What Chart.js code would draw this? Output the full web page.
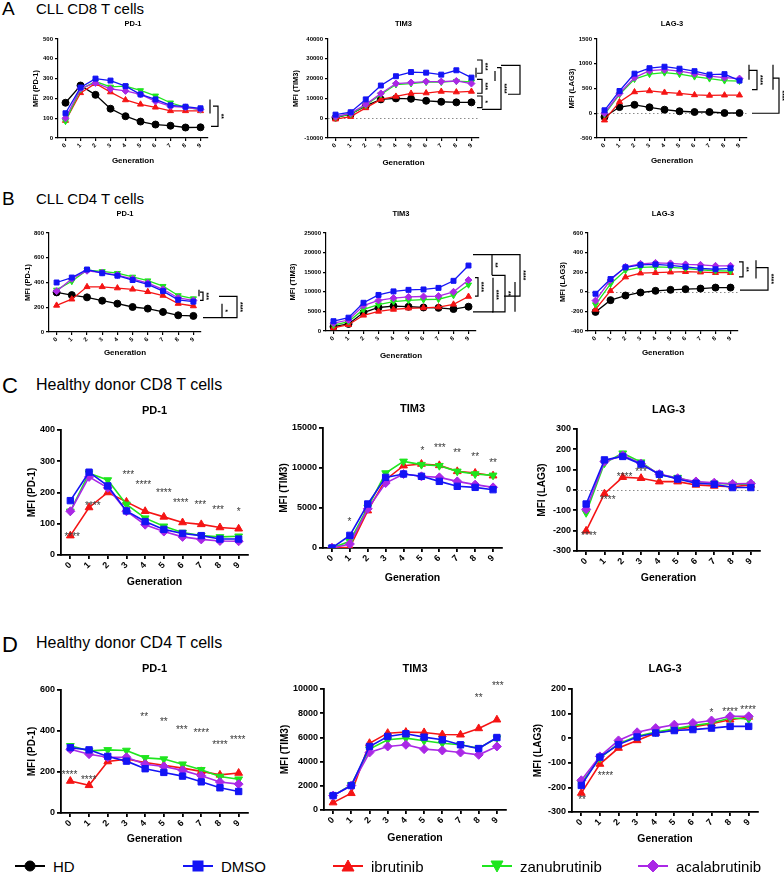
<!DOCTYPE html>
<html>
<head>
<meta charset="utf-8">
<title>PD-1, TIM3 and LAG-3 by generation</title>
<script src="https://cdn.jsdelivr.net/npm/chart.js@4.4.1/dist/chart.umd.min.js"></script>
<style>
    html, body { margin: 0; padding: 0; background: #fff; }
    #page { position: relative; width: 784px; height: 873px; overflow: hidden; font-family: 'Liberation Sans', Arial, sans-serif; color: #000; }
    #page canvas { position: absolute; }
    .txt { position: absolute; white-space: nowrap; line-height: 1; }
    .legend { display: flex; align-items: center; height: 20px; font-size: 15px; }
    .legend span { margin-left: 8px; }
</style>
</head>
<body>
<div id="page">
    <div class="txt" style="left:2px;top:-1px;font-size:19px">A</div>
    <div class="txt" style="left:36px;top:1px;font-size:15px">CLL CD8 T cells</div>
    <div class="txt" style="left:2px;top:189px;font-size:19px">B</div>
    <div class="txt" style="left:36px;top:191px;font-size:15px">CLL CD4 T cells</div>
    <div class="txt" style="left:2px;top:375px;font-size:22px">C</div>
    <div class="txt" style="left:36px;top:377px;font-size:16px">Healthy donor CD8 T cells</div>
    <div class="txt" style="left:2px;top:634px;font-size:22px">D</div>
    <div class="txt" style="left:36px;top:635px;font-size:16px">Healthy donor CD4 T cells</div>
</div>
<script>
const FONT = "'Liberation Sans', Arial, sans-serif";

const generations = ['0', '1', '2', '3', '4', '5', '6', '7', '8', '9'];
const seriesNames = ['HD', 'DMSO', 'ibrutinib', 'zanubrutinib', 'acalabrutinib'];
const seriesColors = ['#000000', '#1414f5', '#f51414', '#1ee61e', '#aa28e6'];
const seriesMarkers = ['circle', 'rect', 'triangle', 'triangle', 'rectRot'];
const seriesRotation = [0, 0, 0, 180, 0];
const seriesOrder = [4, 0, 3, 2, 1];

// rows: HD, DMSO, ibrutinib, zanubrutinib, acalabrutinib
const cllCd8Pd1 = [
    [178, 265, 218, 148, 110, 83, 68, 62, 53, 54],
    [125, 255, 300, 290, 262, 220, 195, 165, 158, 150],
    [88, 228, 275, 232, 192, 170, 155, 137, 137, 137],
    [85, 245, 285, 258, 262, 240, 213, 178, 155, 143],
    [100, 250, 278, 248, 238, 220, 185, 160, 155, 145]
];
const cllCd8Tim3 = [
    [300, 2000, 6200, 9500, 10000, 9800, 8800, 8300, 8000, 8000],
    [1800, 3000, 9500, 16500, 21200, 23300, 23000, 22000, 24200, 20500],
    [-500, 800, 5200, 9500, 11000, 12500, 12700, 13500, 13200, 13500],
    [500, 2000, 6500, 12000, 17000, 17500, 18200, 18200, 18700, 18300],
    [800, 2500, 7000, 12500, 17500, 18000, 18500, 18500, 18800, 17500]
];
const cllCd8Lag3 = [
    [-75, 125, 170, 120, 72, 40, 25, 25, 5, 5],
    [60, 450, 800, 910, 940, 900, 850, 780, 790, 660],
    [-140, 230, 430, 450, 420, 400, 370, 360, 365, 365],
    [-20, 380, 690, 790, 820, 790, 740, 700, 660, 650],
    [0, 400, 720, 860, 880, 850, 800, 750, 720, 700]
];
const cllCd4Pd1 = [
    [320, 298, 280, 253, 229, 202, 189, 162, 135, 130],
    [400, 440, 505, 475, 455, 420, 385, 330, 260, 245],
    [215, 265, 365, 365, 355, 345, 325, 295, 230, 210],
    [340, 410, 500, 490, 475, 445, 415, 370, 295, 270],
    [330, 430, 495, 480, 460, 430, 395, 345, 275, 255]
];
const cllCd4Tim3 = [
    [1100, 1800, 4700, 6000, 6350, 6200, 6000, 5900, 5600, 6200],
    [2500, 3400, 7200, 9200, 10100, 10500, 10600, 11000, 12800, 16700],
    [800, 1600, 4000, 5000, 5500, 5800, 5900, 6100, 6800, 8800],
    [1500, 2400, 5500, 6700, 7500, 7800, 8000, 8100, 9100, 11800],
    [2000, 2800, 6500, 7800, 8400, 8700, 8800, 8900, 10000, 13000]
];
const cllCd4Lag3 = [
    [-205, -85, -38, -7, 10, 20, 27, 33, 43, 43],
    [-20, 130, 250, 275, 280, 270, 255, 240, 230, 240],
    [-180, 10, 150, 190, 195, 200, 205, 200, 195, 195],
    [-130, 80, 220, 250, 255, 250, 240, 225, 215, 210],
    [-90, 120, 255, 285, 295, 290, 280, 275, 265, 265]
];
const hdCd8Pd1 = [
    null,
    [174, 265, 221, 141, 107, 82, 69, 62, 51, 51],
    [62, 152, 200, 170, 140, 122, 104, 98, 88, 84],
    [140, 262, 240, 162, 118, 92, 72, 62, 58, 60],
    [140, 250, 215, 140, 97, 75, 58, 50, 45, 44]
];
const hdCd8Tim3 = [
    null,
    [0, 1580, 5500, 8830, 9250, 8960, 8330, 7710, 7580, 7290],
    [0, 80, 4670, 8540, 10290, 10500, 10330, 9580, 9380, 9040],
    [0, 830, 5080, 9370, 10830, 10420, 10290, 9580, 9250, 9080],
    [0, 500, 4900, 8120, 9250, 8960, 8830, 8330, 7920, 7580]
];
const hdCd8Lag3 = [
    null,
    [-69, 148, 165, 127, 77, 54, 33, 28, 12, 12],
    [-201, -18, 63, 58, 41, 41, 25, 20, 16, 25],
    [-112, 132, 181, 137, 74, 61, 36, 33, 28, 28],
    [-95, 140, 170, 130, 78, 58, 42, 36, 30, 32]
];
const hdCd4Pd1 = [
    null,
    [319, 308, 276, 253, 216, 198, 180, 152, 123, 105],
    [156, 135, 251, 263, 246, 233, 219, 203, 186, 195],
    [328, 303, 308, 305, 269, 263, 238, 211, 178, 165],
    [311, 287, 272, 272, 238, 227, 208, 182, 151, 141]
];
const hdCd4Tim3 = [
    null,
    [1190, 2020, 5250, 6080, 6300, 6020, 5800, 5390, 5080, 5990],
    [610, 1380, 5520, 6350, 6440, 6410, 6240, 6220, 6740, 7460],
    [1190, 2070, 5030, 5800, 5940, 5720, 5520, 5390, 5110, 5940],
    [1190, 2020, 4750, 5250, 5390, 5030, 4920, 4750, 4560, 5250]
];
const hdCd4Lag3 = [
    null,
    [-192, -77, -26, 5, 21, 31, 35, 41, 48, 48],
    [-223, -105, -40, -9, 21, 35, 46, 59, 75, 86],
    [-182, -81, -22, 8, 25, 38, 51, 62, 82, 78],
    [-171, -74, -9, 24, 41, 55, 62, 72, 89, 89]
];

// y axis: [min, max, step]
const cllCd8Ticks = [[0, 500, 100], [-10000, 40000, 10000], [-500, 1500, 500]];
const cllCd4Ticks = [[0, 800, 200], [0, 25000, 5000], [-400, 600, 200]];
const hdCd8Ticks = [[0, 400, 100], [0, 15000, 5000], [-300, 300, 100]];
const hdCd4Ticks = [[0, 600, 200], [0, 10000, 2000], [-300, 200, 100]];

// significance asterisks: [generation, MFI, label]
const hdCd8Pd1Stars = [[0.1, 67, '****'], [1.2, 165, '****'], [3.1, 265, '***'], [3.9, 232, '****'], [5.0, 206, '****'], [5.9, 176, '****'], [6.95, 168, '***'], [7.9, 151, '***'], [9.0, 147, '*']];
const hdCd8Tim3Stars = [[0.98, 3540, '*'], [5.05, 12500, '*'], [6.03, 12830, '***'], [6.99, 12170, '**'], [8.0, 11670, '**'], [9.0, 10920, '**']];
const hdCd8Lag3Stars = [[0.15, -214, '****'], [1.18, -38, '****'], [2.1, 77, '****'], [3.0, 99, '***']];
const hdCd4Pd1Stars = [[-0.04, 200, '****'], [0.98, 175, '****'], [3.95, 483, '**'], [5.0, 459, '**'], [5.96, 418, '***'], [7.0, 402, '****'], [8.0, 344, '****'], [8.95, 370, '****']];
const hdCd4Tim3Stars = [[8.0, 9500, '**'], [9.05, 10500, '***']];
const hdCd4Lag3Stars = [[0.04, -240, '**'], [1.3, -144, '****'], [7.0, 113, '*'], [8.0, 116, '****'], [8.97, 127, '****']];

// comparison brackets: [px right of plot, top MFI, bottom MFI, label, top tick, bottom tick]
const cllCd8Pd1Brackets = [[2, 195, 124, '', 0, 0], [10, 161, 59, '**', 5, 7]];
const cllCd8Tim3Brackets = [[3, 29400, 22700, '***', 5, 5], [3, 19600, 12600, '***', 5, 5], [3, 11200, 5300, '*', 5, 5],
    [-3, 25500, 20500, '', 0, 0], [22, 25500, 4500, '****', 4, 19], [16, 23800, 18800, '', 0, 0], [41, 26700, 12100, '', 19, 12]];
const cllCd8Lag3Brackets = [[2, 981, 678, '', 0, 0], [10, 867, 476, '****', 8, 5], [26, 981, 476, '', 0, 0], [32, 710, 0, '****', 6, 27]];
const cllCd4Pd1Brackets = [[-2, 342, 288, '', 0, 0], [2, 323, 256, '***', 3, 3], [36, 288, 116, '****', 18, 34], [21, 229, 116, '*', 0, 0]];
const cllCd4Tim3Brackets = [[2, 13600, 8900, '****', 3, 3], [16, 19500, 14200, '**', 19, 0], [17, 13600, 4900, '****', 0, 20],
    [29, 14200, 4900, '**', 13, 13], [44, 19500, 8900, '****', 28, 16], [39, 12500, 4900, '', 0, 0]];
const cllCd4Lag3Brackets = [[5, 305, 153, '**', 4, 4], [18, 322, 136, '', 0, 0], [30, 247, 17, '****', 12, 28]];

const panels = [
    { data: cllCd8Pd1, ticks: cllCd8Ticks[0], title: 'PD-1', yTitle: 'MFI (PD-1)', brackets: cllCd8Pd1Brackets },
    { data: cllCd8Tim3, ticks: cllCd8Ticks[1], title: 'TIM3', yTitle: 'MFI (TIM3)', brackets: cllCd8Tim3Brackets, zero: true },
    { data: cllCd8Lag3, ticks: cllCd8Ticks[2], title: 'LAG-3', yTitle: 'MFI (LAG3)', brackets: cllCd8Lag3Brackets, zero: true },
    { data: cllCd4Pd1, ticks: cllCd4Ticks[0], title: 'PD-1', yTitle: 'MFI (PD-1)', brackets: cllCd4Pd1Brackets },
    { data: cllCd4Tim3, ticks: cllCd4Ticks[1], title: 'TIM3', yTitle: 'MFI (TIM3)', brackets: cllCd4Tim3Brackets },
    { data: cllCd4Lag3, ticks: cllCd4Ticks[2], title: 'LAG-3', yTitle: 'MFI (LAG3)', brackets: cllCd4Lag3Brackets, zero: true },
    { data: hdCd8Pd1, ticks: hdCd8Ticks[0], title: 'PD-1', yTitle: 'MFI (PD-1)', stars: hdCd8Pd1Stars, big: true },
    { data: hdCd8Tim3, ticks: hdCd8Ticks[1], title: 'TIM3', yTitle: 'MFI (TIM3)', stars: hdCd8Tim3Stars, big: true },
    { data: hdCd8Lag3, ticks: hdCd8Ticks[2], title: 'LAG-3', yTitle: 'MFI (LAG3)', stars: hdCd8Lag3Stars, big: true, zero: true },
    { data: hdCd4Pd1, ticks: hdCd4Ticks[0], title: 'PD-1', yTitle: 'MFI (PD-1)', stars: hdCd4Pd1Stars, big: true },
    { data: hdCd4Tim3, ticks: hdCd4Ticks[1], title: 'TIM3', yTitle: 'MFI (TIM3)', stars: hdCd4Tim3Stars, big: true },
    { data: hdCd4Lag3, ticks: hdCd4Ticks[2], title: 'LAG-3', yTitle: 'MFI (LAG3)', stars: hdCd4Lag3Stars, big: true }
];

// plot area on the page [left, top, right, bottom], title gap, y title offset, x title offset
const panelBoxes = [
    [[58, 39, 208, 138], 15, 22, 23], [[328, 39, 479, 138], 15, 32, 25], [[597, 39, 747, 138], 15, 25, 23],
    [[49, 233, 201, 332], 19, 21, 21], [[326, 233, 476, 331], 19, 33, 25], [[588, 233, 738, 331], 19, 25, 22],
    [[61, 430, 248, 555], 19, 29, 27], [[323, 428, 502, 548], 19, 39, 30], [[577, 429, 760, 551], 19, 35, 27],
    [[61, 690, 248, 813], 21, 29, 26], [[324, 689, 506, 810], 20, 39, 28], [[572, 689, 758, 812], 20, 34, 27]
];

const smallStyle = { title: 7.5, tick: 6, axis: 8, yAxis: 7.5, point: 3.5, line: 1.3, axisLine: 1.2, tickLen: 3, bracket: 6.5 };
const largeStyle = { title: 11, tick: 9, axis: 10.5, yAxis: 10, point: 4.5, line: 1.6, axisLine: 1.8, tickLen: 4, star: 10 };

const Y_W = 50, X_H = 40, TOP_PAD = 35, R_PAD = 60;
const LEGEND_Y = 866;
const legendX = [15, 183, 333, 482, 638];

const page = document.getElementById('page');

function makeDecor(spec, titleGap, st) {
    return {
        id: 'panelDecor',
        beforeDatasetsDraw(chart) {
            if (!spec.zero) return;
            const { ctx, chartArea: a, scales: { y } } = chart;
            const y0 = Math.round(y.getPixelForValue(0)) + 0.5;
            ctx.save();
            ctx.strokeStyle = '#8a8a8a';
            ctx.lineWidth = 1;
            ctx.setLineDash([1.5, 2.5]);
            ctx.beginPath();
            ctx.moveTo(a.left, y0);
            ctx.lineTo(a.right, y0);
            ctx.stroke();
            ctx.restore();
        },
        afterDraw(chart) {
            const { ctx, chartArea: a, scales: { x, y } } = chart;
            ctx.save();
            ctx.fillStyle = '#000';
            ctx.font = `bold ${st.title}px ${FONT}`;
            ctx.textAlign = 'center';
            ctx.textBaseline = 'middle';
            ctx.fillText(spec.title, (a.left + a.right) / 2, a.top - titleGap);

            if (spec.stars) {
                ctx.font = `${st.star}px ${FONT}`;
                ctx.fillStyle = '#3a3a3a';
                ctx.textBaseline = 'alphabetic';
                for (const [g, v, s] of spec.stars) {
                    ctx.fillText(s, x.getPixelForValue(g), y.getPixelForValue(v) + st.star * 0.56);
                }
            }

            if (spec.brackets) {
                ctx.strokeStyle = '#000';
                ctx.lineWidth = 1.2;
                ctx.fillStyle = '#000';
                ctx.font = `bold ${st.bracket}px ${FONT}`;
                for (const [dx, top, bot, label, tt, tb] of spec.brackets) {
                    const bx = a.right + dx;
                    const yt = y.getPixelForValue(top);
                    const yb = y.getPixelForValue(bot);
                    ctx.beginPath();
                    ctx.moveTo(bx - tt, yt);
                    ctx.lineTo(bx, yt);
                    ctx.lineTo(bx, yb);
                    ctx.lineTo(bx - tb, yb);
                    ctx.stroke();
                    if (label) {
                        ctx.save();
                        ctx.translate(bx + 1, (yt + yb) / 2);
                        ctx.rotate(Math.PI / 2);
                        ctx.textAlign = 'center';
                        ctx.textBaseline = 'alphabetic';
                        ctx.fillText(label, 0, 0);
                        ctx.restore();
                    }
                }
            }
            ctx.restore();
        }
    };
}

function buildPanel(spec, layout) {
    const st = spec.big ? largeStyle : smallStyle;
    const [[l, t, r, b], titleGap, yDx, xDy] = layout;
    const W = r - l + Y_W + R_PAD;
    const H = b - t + TOP_PAD + X_H;
    const canvas = document.createElement('canvas');
    canvas.width = W;
    canvas.height = H;
    canvas.style.left = (l - Y_W) + 'px';
    canvas.style.top = (t - TOP_PAD) + 'px';
    canvas.style.width = W + 'px';
    canvas.style.height = H + 'px';
    page.appendChild(canvas);

    const datasets = [];
    spec.data.forEach((vals, i) => {
        if (!vals) return;
        datasets.push({
            label: seriesNames[i],
            data: vals,
            borderColor: seriesColors[i],
            backgroundColor: seriesColors[i],
            pointStyle: seriesMarkers[i],
            pointRotation: seriesRotation[i],
            pointRadius: st.point,
            pointBorderWidth: 1,
            borderWidth: st.line,
            tension: 0,
            fill: false,
            order: seriesOrder[i]
        });
    });

    const yLh = st.yAxis * 1.2;
    const xLh = st.axis * 1.2;
    const gridOpts = { display: true, drawOnChartArea: false, drawTicks: true, tickLength: st.tickLen, color: '#000', lineWidth: st.axisLine };
    const borderOpts = { display: true, color: '#000', width: st.axisLine };

    new Chart(canvas.getContext('2d'), {
        type: 'line',
        data: { labels: generations, datasets: datasets },
        options: {
            responsive: false,
            animation: false,
            events: [],
            layout: { padding: { left: 0, top: TOP_PAD, right: R_PAD, bottom: 0 } },
            plugins: { legend: { display: false }, tooltip: { enabled: false } },
            scales: {
                x: {
                    type: 'category',
                    offset: true,
                    grid: gridOpts,
                    border: borderOpts,
                    ticks: { color: '#000', font: { family: FONT, size: st.tick, weight: 'bold' }, minRotation: 45, maxRotation: 45, autoSkip: false, padding: 1 },
                    title: { display: true, text: 'Generation', color: '#000', font: { family: FONT, size: st.axis, weight: 'bold' },
                        padding: { top: 0, bottom: X_H - xDy - xLh / 2 } },
                    afterFit: axis => { axis.height = X_H; }
                },
                y: {
                    min: spec.ticks[0],
                    max: spec.ticks[1],
                    grid: gridOpts,
                    border: borderOpts,
                    ticks: { stepSize: spec.ticks[2], color: '#000', font: { family: FONT, size: st.tick, weight: 'bold' }, padding: 2,
                        callback: v => String(v) },
                    title: { display: true, text: spec.yTitle, color: '#000', font: { family: FONT, size: st.yAxis, weight: 'bold' },
                        padding: { top: Y_W - yDx - yLh / 2, bottom: 0 } },
                    afterFit: axis => { axis.width = Y_W; }
                }
            }
        },
        plugins: [makeDecor(spec, titleGap, st)]
    });
}

panels.forEach((spec, i) => buildPanel(spec, panelBoxes[i]));

const markerSvg = [
    '<circle cx="15" cy="10" r="5"/>',
    '<rect x="10" y="5" width="10" height="10"/>',
    '<polygon points="15,4 21,15 9,15"/>',
    '<polygon points="9,5 21,5 15,16"/>',
    '<polygon points="15,4 21,10 15,16 9,10"/>'
];
seriesNames.forEach((name, i) => {
    const item = document.createElement('div');
    item.className = 'txt legend';
    item.style.left = legendX[i] + 'px';
    item.style.top = (LEGEND_Y - 10) + 'px';
    item.innerHTML = `<svg width="30" height="20" fill="${seriesColors[i]}" stroke="${seriesColors[i]}">` +
        `<line x1="0" y1="10" x2="30" y2="10" stroke-width="2"/>${markerSvg[i]}</svg><span>${name}</span>`;
    page.appendChild(item);
});
</script>
</body>
</html>
